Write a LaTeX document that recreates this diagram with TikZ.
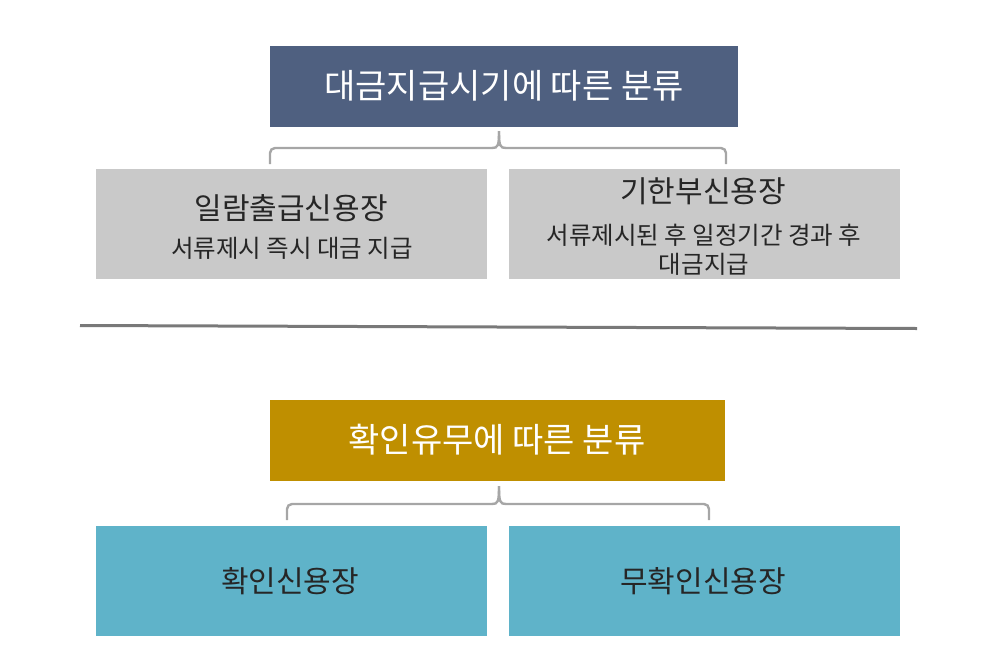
\documentclass[tikz,border=0pt]{standalone}
\usepackage{fontspec}
\setmainfont{Noto Sans CJK KR}
\definecolor{navy}{HTML}{4F6080}
\definecolor{boxgray}{HTML}{C9C9C9}
\definecolor{gold}{HTML}{BF8F00}
\definecolor{cyanbox}{HTML}{5FB3C9}
\definecolor{brgray}{HTML}{A6A6A6}
\definecolor{txt}{HTML}{262626}
\tikzset{
  brace/.style={draw=brgray, line width=2.4pt, rounded corners=5pt},
  brtip/.style={draw=brgray, line width=2.4pt},
  ttl/.style={font=\fontsize{34}{40}\selectfont, text=white},
  sub/.style={font=\fontsize{30}{34}\selectfont, text=txt},
  sm/.style={font=\fontsize{24.5}{29}\selectfont, text=txt, align=center},
}
\begin{document}
\begin{tikzpicture}[x=1pt,y=-1pt]
\useasboundingbox (0,0) rectangle (985,667);
% top section
\fill[navy] (270,46) rectangle (738,127);
\node[ttl] (t1) at (504,86) {대금지급시기에 따른 분류};
\fill[boxgray] (96,169) rectangle (487,279);
\fill[boxgray] (509,169) rectangle (900,279);
\node[sub] (a1) at (291,208) {일람출급신용장};
\node[sm] (a2) at (292,248) {서류제시 즉시 대금 지급};
\node[sub] (b1) at (703,191) {기한부신용장};
\node[sm] (b2) at (704,250) {서류제시된 후 일정기간 경과 후\\대금지급};
\coordinate (bl1) at (270,164);
\coordinate (br1) at (726,164);
\coordinate (bt1) at (499,131);
\draw[brace] (bl1) -- (270,148) -- (492,148);
\draw[brtip] (492,148) .. controls (498,148) and (499,146) .. (bt1);
\draw[brace] (br1) -- (726,148) -- (506,148);
\draw[brtip] (506,148) .. controls (500,148) and (499,146) .. (bt1);
% divider
\coordinate (d1) at (80,325.5);
\coordinate (d2) at (917,328.5);
\draw[draw=gray!95!black, line width=3pt] (d1) -- (d2);
% bottom section
\fill[gold] (270,400) rectangle (725,481);
\node[ttl] (t2) at (497,440) {확인유무에 따른 분류};
\fill[cyanbox] (96,526) rectangle (487,636);
\fill[cyanbox] (509,526) rectangle (900,636);
\node[sub] (c1) at (290,581) {확인신용장};
\node[sub] (c2) at (703,581) {무확인신용장};
\coordinate (bl2) at (287,520);
\coordinate (br2) at (709,520);
\coordinate (bt2) at (499,486);
\draw[brace] (bl2) -- (287,504) -- (492,504);
\draw[brtip] (492,504) .. controls (498,504) and (499,502) .. (bt2);
\draw[brace] (br2) -- (709,504) -- (506,504);
\draw[brtip] (506,504) .. controls (500,504) and (499,502) .. (bt2);
\end{tikzpicture}
\end{document}
